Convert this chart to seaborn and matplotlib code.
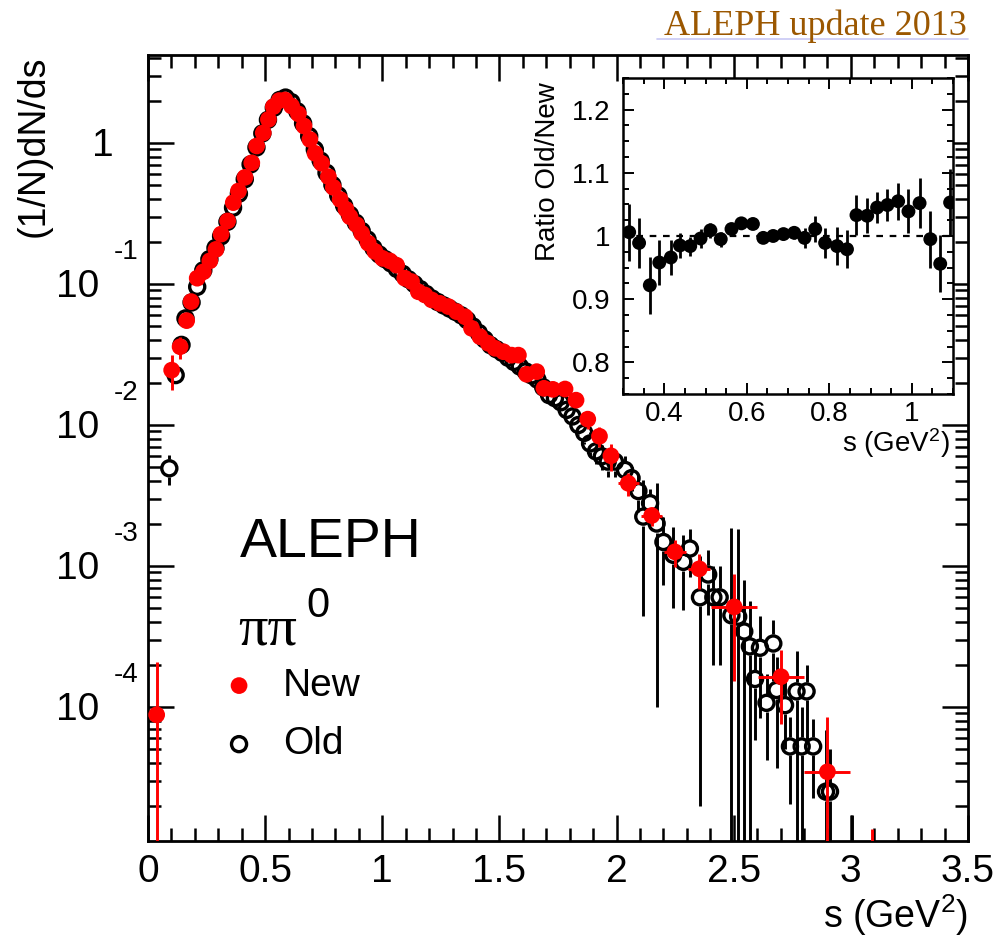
import numpy as np
import matplotlib
matplotlib.use("Agg")
import matplotlib.pyplot as plt
import matplotlib.ticker as mticker
from matplotlib.transforms import blended_transform_factory, offset_copy
import seaborn as sns

# -----------------------------------------------------------------------------
# ALEPH tau -> pi pi0 nu spectral function: new (2013) vs old analysis
# -----------------------------------------------------------------------------

sns.set_style("ticks")
plt.rcParams["font.family"] = ["Liberation Sans", "DejaVu Sans"]
plt.rcParams["mathtext.fontset"] = "custom"
plt.rcParams["mathtext.rm"] = "Liberation Sans"
plt.rcParams["mathtext.it"] = "Liberation Sans:italic"
for key in ["text.color", "axes.labelcolor", "xtick.color", "ytick.color", "axes.edgecolor"]:
    plt.rcParams[key] = "black"

# New (2013) data: s, (1/N)dN/ds, error, half bin width
new_s = [0.037, 0.101, 0.137, 0.165, 0.184, 0.210, 0.236, 0.264, 0.290, 0.312,
         0.340, 0.364, 0.386, 0.414, 0.443, 0.464, 0.492, 0.514, 0.535, 0.560,
         0.585, 0.613, 0.642, 0.666, 0.691, 0.713, 0.741, 0.770, 0.791, 0.820,
         0.845, 0.862, 0.891, 0.912, 0.940, 0.969, 1.001, 1.032, 1.061, 1.096,
         1.125, 1.154, 1.182, 1.211, 1.246, 1.282, 1.317, 1.353, 1.381, 1.417,
         1.452, 1.481, 1.517, 1.552, 1.581, 1.616, 1.659, 1.690, 1.728, 1.780,
         1.827, 1.877, 1.927, 1.976, 2.050, 2.150, 2.249, 2.353, 2.502, 2.702,
         2.900, 3.090]
new_val = [8.8e-5, 0.0245, 0.0359, 0.0550, 0.0750, 0.110, 0.122, 0.146, 0.176, 0.226,
           0.280, 0.378, 0.457, 0.571, 0.724, 0.953, 1.18, 1.47, 1.81, 2.00,
           2.02, 1.83, 1.61, 1.32, 1.06, 0.845, 0.718, 0.577, 0.485, 0.398,
           0.339, 0.300, 0.263, 0.229, 0.195, 0.170, 0.152, 0.146, 0.136, 0.110,
           0.104, 0.0881, 0.0836, 0.0771, 0.0729, 0.0692, 0.0637, 0.0586, 0.0485, 0.0423,
           0.0380, 0.0350, 0.0331, 0.0313, 0.0313, 0.0229, 0.0239, 0.0182, 0.0179, 0.0180,
           0.0150, 0.0110, 0.00832, 0.00605, 0.00386, 0.00228, 0.00126, 0.000955, 0.000513, 0.000164,
           3.47e-5, 9.0e-6]
new_err = [1.2e-4, 0.0068, 0.0065, 0.0040, 0.0030,
           0.002, 0.002, 0.002, 0.002, 0.003, 0.003, 0.004, 0.004, 0.005, 0.006, 0.007,
           0.008, 0.009, 0.010, 0.011, 0.011, 0.010, 0.009, 0.008, 0.007, 0.006, 0.005,
           0.005, 0.004, 0.004,
           0.0035, 0.003, 0.003, 0.0025, 0.0025, 0.002, 0.002, 0.002, 0.002, 0.0018,
           0.0018, 0.0016, 0.0016, 0.0015, 0.0015, 0.0015, 0.0015, 0.0014, 0.0013, 0.0012,
           0.0012, 0.0011, 0.0011, 0.0011, 0.0011,
           0.0012, 0.0010, 0.0010, 0.0010, 0.0009, 0.0012, 0.0016, 0.0013, 0.0013,
           0.0007, 0.00036, 0.00027, 0.00027, 0.00036, 8.8e-5, 5.0e-5, 4.6e-6]
new_serr = [0.0] * 64 + [0.046, 0.046, 0.046, 0.047, 0.097, 0.097, 0.098, 0.08]

# Old data: s, (1/N)dN/ds, error
old_s = [0.091, 0.118, 0.143, 0.160, 0.186, 0.210, 0.236, 0.262, 0.288, 0.312,
         0.339, 0.363, 0.388, 0.413, 0.438, 0.463, 0.488, 0.512, 0.537, 0.562,
         0.587, 0.612, 0.637, 0.662, 0.688, 0.712, 0.737, 0.762, 0.787, 0.812,
         0.837, 0.862, 0.887, 0.912, 0.937, 0.962, 0.987, 1.012, 1.037, 1.062,
         1.087, 1.112, 1.137, 1.162, 1.187, 1.212, 1.237, 1.262, 1.287, 1.312,
         1.337, 1.362, 1.387, 1.412, 1.437, 1.462, 1.487, 1.512, 1.537, 1.562,
         1.587, 1.612, 1.637, 1.662, 1.687, 1.712, 1.737, 1.762, 1.787, 1.812,
         1.837, 1.862, 1.887, 1.912, 1.937, 1.962, 1.993, 2.036, 2.064, 2.093,
         2.114, 2.143, 2.171, 2.200, 2.242, 2.285, 2.313, 2.356, 2.391, 2.413,
         2.440, 2.490, 2.519, 2.545, 2.569, 2.591, 2.612, 2.640, 2.669, 2.683,
         2.719, 2.740, 2.768, 2.790, 2.811, 2.839, 2.894, 2.911, 3.003]
old_val = [0.00493, 0.0226, 0.0370, 0.0570, 0.0740, 0.0955, 0.125, 0.150, 0.180, 0.218,
           0.276, 0.348, 0.437, 0.553, 0.705, 0.930, 1.17, 1.46, 1.78, 2.02,
           2.10, 1.95, 1.68, 1.38, 1.12, 0.900, 0.750, 0.615, 0.505, 0.425,
           0.360, 0.310, 0.272, 0.238, 0.207, 0.180, 0.162, 0.150, 0.140, 0.128,
           0.118, 0.108, 0.100, 0.092, 0.085, 0.0790, 0.0745, 0.0705, 0.0670, 0.0635,
           0.0600, 0.0555, 0.0500, 0.0450, 0.0405, 0.0368, 0.0345, 0.0325, 0.0300, 0.0280,
           0.0260, 0.0240, 0.0225, 0.0210, 0.0185, 0.0163, 0.0155, 0.0145, 0.0128, 0.0115,
           0.0100, 0.0088, 0.0074, 0.0065, 0.0060, 0.0055, 0.0055, 0.0048, 0.0042, 0.0034,
           0.00224, 0.00279, 0.00200, 0.00148, 0.00120, 0.00107, 0.00133, 0.00060, 0.00087, 0.00060,
           0.00060, 0.000447, 0.000437, 0.000343, 0.000269, 0.000158, 0.000263, 0.000107, 0.000282, 0.000132,
           0.000103, 5.25e-5, 0.000129, 5.25e-5, 0.000129, 5.25e-5, 2.51e-5, 2.51e-5, 3.0e-6]
old_err = [0.0012, 0.003, 0.003, 0.003, 0.003, 0.003, 0.003, 0.003, 0.003, 0.004,
           0.004, 0.005, 0.006, 0.007, 0.008, 0.010, 0.012, 0.014, 0.016, 0.018,
           0.018, 0.016, 0.014, 0.012, 0.010, 0.008, 0.007, 0.006, 0.005, 0.005,
           0.004, 0.004, 0.004, 0.003, 0.003, 0.003, 0.003, 0.003, 0.003, 0.003,
           0.003, 0.002, 0.002, 0.002, 0.002, 0.002, 0.002, 0.002, 0.002, 0.002,
           0.002, 0.002, 0.002, 0.002, 0.002, 0.0015, 0.0015, 0.0015, 0.0015, 0.0015,
           0.0015, 0.0015, 0.0015, 0.0015, 0.0015, 0.0015, 0.0015, 0.0015, 0.0015, 0.0015,
           0.0015, 0.0015, 0.0015, 0.0012, 0.0012, 0.0012, 0.0012, 0.0012, 0.0008, 0.0010,
           0.0018, 0.0007, 0.0019, 0.00075, 0.0007, 0.00058, 0.0005, 0.00058, 0.00042, 0.0004,
           0.0004, 0.0014, 0.0014, 0.00045, 0.0003, 0.0001, 0.00018, 6.5e-5, 0.00013, 9.5e-5,
           5.3e-5, 3.2e-5, 0.00012, 4.8e-5, 7.0e-5, 3.0e-5, 4.4e-5, 2.5e-5, 1.4e-5]

# Inset: ratio Old/New
ratio_s = [0.315, 0.339, 0.365, 0.388, 0.416, 0.438, 0.463, 0.488, 0.512, 0.537,
           0.563, 0.587, 0.615, 0.640, 0.664, 0.689, 0.715, 0.740, 0.766, 0.790,
           0.819, 0.843, 0.866, 0.892, 0.916, 0.941, 0.967, 0.992, 1.019, 1.045,
           1.069, 1.093]
ratio_val = [1.006, 0.989, 0.922, 0.958, 0.966, 0.985, 0.984, 0.996, 1.009, 0.995,
             1.011, 1.020, 1.019, 0.997, 1.000, 1.003, 1.005, 0.997, 1.011, 0.989,
             0.984, 0.979, 1.033, 1.032, 1.045, 1.049, 1.055, 1.039, 1.052, 0.995,
             0.956, 1.053]
ratio_err = [0.045, 0.040, 0.045, 0.036, 0.027, 0.020, 0.015, 0.015, 0.012, 0.012,
             0.010, 0.008, 0.008, 0.008, 0.008, 0.008, 0.010, 0.016, 0.020, 0.024,
             0.030, 0.030, 0.032, 0.028, 0.025, 0.026, 0.029, 0.035, 0.040, 0.045,
             0.045, 0.053]

fig = plt.figure(figsize=(10, 9.5), dpi=100)
ax = fig.add_axes([0.148, 0.1147, 0.820, 0.8274])
ax.set_yscale("log")

# Old: open circles, error bars stop at the marker edge (ROOT style)
o_s = np.array(old_s)
o_v = np.array(old_val)
o_e = np.array(old_err)
gap = 10 ** 0.064
lo = np.where(o_v - o_e > 0, o_v - o_e, 1e-9)
hi = o_v + o_e
m_lo = lo < o_v / gap
m_hi = hi > o_v * gap
ax.vlines(o_s[m_lo], lo[m_lo], o_v[m_lo] / gap, color="black", lw=2.1, zorder=2)
ax.vlines(o_s[m_hi], o_v[m_hi] * gap, hi[m_hi], color="black", lw=2.1, zorder=2)
sns.scatterplot(x=old_s, y=old_val, ax=ax, marker="o", s=118, color="black",
                facecolor="none", edgecolor="black", linewidth=2.4, zorder=3,
                label="Old")

# New: filled red dots
n_v = np.array(new_val)
n_e = np.array(new_err)
n_lo = np.minimum(n_e, n_v * 0.99999)
ax.errorbar(new_s, new_val, yerr=[n_lo, n_e], xerr=new_serr, fmt="none",
            ecolor="red", elinewidth=2.1, capsize=0, zorder=4)
sns.scatterplot(x=new_s, y=new_val, ax=ax, marker="o", s=145, color="red",
                edgecolor="none", linewidth=0, zorder=5, label="New")

ax.set_xlim(0, 3.5)
ax.set_ylim(1.12e-5, 4.21)
ax.set_xlabel("")
ax.set_ylabel("")

ax.xaxis.set_major_locator(mticker.MultipleLocator(0.5))
ax.xaxis.set_minor_locator(mticker.MultipleLocator(0.1))
ax.xaxis.set_major_formatter(mticker.FuncFormatter(lambda v, p: f"{v:g}"))
ax.yaxis.set_major_locator(mticker.LogLocator(base=10, numticks=20))
ax.yaxis.set_minor_locator(mticker.LogLocator(base=10, subs=np.arange(2, 10), numticks=20))
ax.yaxis.set_major_formatter(mticker.NullFormatter())
ax.yaxis.set_minor_formatter(mticker.NullFormatter())
ax.tick_params(which="both", direction="in", top=True, right=True, width=1.8,
               labelsize=28, pad=9)
ax.tick_params(which="major", length=18.7)
ax.tick_params(which="minor", length=9.4)
for sp in ax.spines.values():
    sp.set_linewidth(2.0)

# ROOT-like y tick labels: "10" with the exponent raised above it
ytr = blended_transform_factory(ax.transAxes, ax.transData)
ytr_dn = offset_copy(ytr, fig=fig, y=-3, units="dots")
ytr_up = offset_copy(ytr, fig=fig, y=32, units="dots")
ax.text(-0.042, 1.0, "1", transform=ytr_dn, ha="right", va="center", fontsize=28)
for k in [-1, -2, -3, -4]:
    ax.text(-0.059, 10.0 ** k, "10", transform=ytr_dn, ha="right", va="center", fontsize=28)
    ax.text(-0.042, 10.0 ** k, str(k), transform=ytr_up, ha="left", va="center", fontsize=20)

ax.text(-0.139, 1.0, "(1/N)dN/ds", transform=ax.transAxes, rotation=90,
        ha="center", va="top", fontsize=27)
ax.text(1.0, -0.094, "s (GeV$^{2}$)", transform=ax.transAxes, ha="right",
        va="center", fontsize=27)

ax.text(0.112, 0.3613, "ALEPH", transform=ax.transAxes, ha="left",
        va="baseline", fontsize=40)
ax.text(0.110, 0.2506, "\u03c0\u03c0", transform=ax.transAxes, ha="left",
        va="baseline", fontsize=42, family=["Liberation Serif", "DejaVu Serif"])
ax.text(0.193, 0.285, "0", transform=ax.transAxes, ha="left", va="baseline",
        fontsize=30)

handles, labels = ax.get_legend_handles_labels()
order = [labels.index("New"), labels.index("Old")]
ax.legend([handles[i] for i in order], [labels[i] for i in order],
          loc="upper left", bbox_to_anchor=(0.0897, 0.2204), frameon=False,
          fontsize=28, borderpad=0, borderaxespad=0, handlelength=0.9,
          handletextpad=0.68, labelspacing=0.58)

# Inset: ratio Old/New
axi = fig.add_axes([0.623, 0.5853, 0.330, 0.3326])
axi.set_facecolor("white")
axi.axhline(1.0, color="black", lw=1.6, ls=(0, (3, 3)), zorder=1)
axi.errorbar(ratio_s, ratio_val, yerr=ratio_err, fmt="none", ecolor="black",
             elinewidth=2.0, capsize=0, zorder=2)
sns.scatterplot(x=ratio_s, y=ratio_val, ax=axi, marker="o", s=100,
                color="black", edgecolor="none", linewidth=0, zorder=3)
axi.set_xlim(0.3, 1.1)
axi.set_ylim(0.75, 1.25)
axi.set_xlabel("")
axi.set_ylabel("")
axi.xaxis.set_major_locator(mticker.MultipleLocator(0.2))
axi.xaxis.set_minor_locator(mticker.MultipleLocator(0.05))
axi.yaxis.set_major_locator(mticker.MultipleLocator(0.1))
axi.yaxis.set_minor_locator(mticker.MultipleLocator(0.025))
fmt = mticker.FuncFormatter(lambda v, p: f"{v:g}")
axi.xaxis.set_major_formatter(fmt)
axi.yaxis.set_major_formatter(fmt)
axi.tick_params(which="both", direction="in", top=True, right=True, width=1.4,
                labelsize=20)
axi.tick_params(axis="x", pad=5)
axi.tick_params(axis="y", pad=9)
axi.tick_params(which="major", length=8)
axi.tick_params(which="minor", length=4.5)
for sp in axi.spines.values():
    sp.set_linewidth(1.8)
axi.text(-0.227, 0.987, "Ratio Old/New", transform=axi.transAxes, rotation=90,
         ha="center", va="top", fontsize=20)
axi.text(0.991, -0.155, "s (GeV$^{2}$)", transform=axi.transAxes, ha="right",
         va="center", fontsize=20)

# page header
fig.text(0.967, 0.963, "ALEPH update 2013", ha="right", va="baseline",
         fontsize=26, color="#9b5700", family=["Liberation Serif", "DejaVu Serif"])
fig.add_artist(plt.Line2D([0.657, 0.968], [0.9589, 0.9589],
                          transform=fig.transFigure, color="#c8c8f5", lw=1.2))

fig.savefig("out.png", dpi=100)
plt.close(fig)
